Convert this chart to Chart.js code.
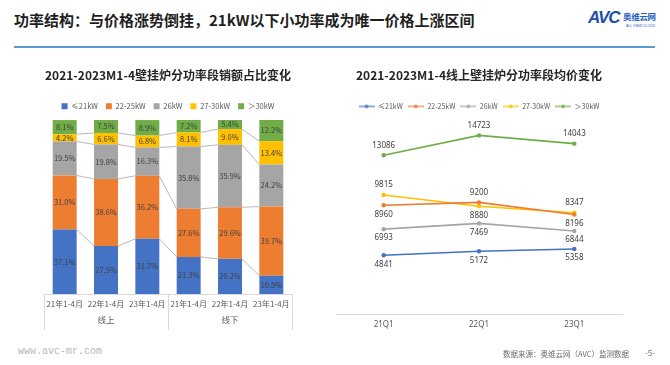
<!DOCTYPE html>
<html lang="zh">
<head>
<meta charset="utf-8">
<script src="https://cdn.jsdelivr.net/npm/chart.js@4.4.1/dist/chart.umd.min.js"></script>
<style>
  body { margin: 0; width: 670px; height: 365px; background: #fff; position: relative; overflow: hidden;
         font-family: "Noto Sans CJK SC", "Noto Sans", sans-serif; }
  .head { position: absolute; left: 14px; top: 9px; font-size: 15px; font-weight: bold; color: #1f1f1f; white-space: nowrap; }
  .rule { position: absolute; left: 14px; top: 46px; width: 641px; height: 2px; background: #5B9BD5; }
  .logo { position: absolute; left: 588px; top: 8px; width: 80px; height: 30px; white-space: nowrap; }
  .logo .avc { position: absolute; left: 0; top: 0; font: italic bold 17px "Liberation Sans", sans-serif; color: #1F4FA8; letter-spacing: -1px; }
  .logo .cn { position: absolute; left: 35px; top: 2px; font-size: 8.5px; font-weight: bold; color: #2B62C4; letter-spacing: -0.3px; }
  .logo .en { position: absolute; left: 38px; top: 16px; font: 3.5px "Liberation Sans", sans-serif; color: #2B62C4; }
  .box { position: absolute; }
  .foot-l { position: absolute; left: 18px; top: 346px; font: 10px "Liberation Mono", monospace; color: #b8b8b8; }
  .foot-r { position: absolute; left: 503px; top: 348px; font-size: 7.5px; color: #6b6b6b; white-space: nowrap; }
  .page { position: absolute; left: 645px; top: 347px; font-size: 8px; color: #6b6b6b; }
</style>
</head>
<body>
<div class="head">功率结构：与价格涨势倒挂，21kW以下小功率成为唯一价格上涨区间</div>
<div class="rule"></div>
<div class="logo"><span class="avc">AVC</span><span class="cn">奥维云网</span><span class="en">ALL VIEW CLOUD</span></div>

<div class="box" style="left:0;top:55px;width:335px;height:290px;"><canvas id="chart-1"></canvas></div>
<div class="box" style="left:320px;top:55px;width:340px;height:290px;"><canvas id="chart-2"></canvas></div>

<div class="foot-l">www.avc-mr.com</div>
<div class="foot-r">数据来源：奥维云网（AVC）监测数据</div>
<div class="page">-5-</div>

<script>
// data - stacked share (%)
const periods = ['21年1-4月', '22年1-4月', '23年1-4月', '21年1-4月', '22年1-4月', '23年1-4月'];
const channels = ['线上', '线下'];
const powerBands = ['≤21kW', '22-25kW', '26kW', '27-30kW', '＞30kW'];
const shareLe21 = [37.1, 27.5, 31.7, 21.3, 20.2, 10.5];
const share22to25 = [31.0, 38.6, 36.2, 27.6, 29.6, 39.7];
const share26 = [19.5, 19.8, 16.3, 35.8, 35.9, 24.2];
const share27to30 = [4.2, 6.6, 6.8, 8.1, 9.0, 13.4];
const shareGt30 = [8.1, 7.5, 8.9, 7.2, 5.4, 12.2];

// data - online avg price
const quarters = ['21Q1', '22Q1', '23Q1'];
const priceLe21 = [4841, 5172, 5358];
const price22to25 = [8960, 9200, 8196];
const price26 = [6993, 7469, 6844];
const price27to30 = [9815, 8880, 8347];
const priceGt30 = [13086, 14723, 14043];

const colors = ['#4472C4', '#ED7D31', '#A5A5A5', '#FFC000', '#70AD47'];
// label above / below the point, per series
const labelSide = [
  ['below', 'below', 'below'],
  ['below', 'above', 'below'],
  ['below', 'below', 'below'],
  ['above', 'below', 'above'],
  ['above', 'above', 'above']
];

const txt = '#595959';
const fontCn = '"Noto Sans CJK SC", "Noto Sans", sans-serif';

// grey lines between the stacked bars
const seriesLines = {
  id: 'seriesLines',
  beforeDatasetsDraw(chart) {
    const ctx = chart.ctx;
    ctx.save();
    ctx.strokeStyle = '#A6A6A6';
    ctx.lineWidth = 0.8;
    for (let i = 0; i < chart.data.datasets.length - 1; i++) {
      const bars = chart.getDatasetMeta(i).data;
      for (let j = 0; j < bars.length - 1; j++) {
        const a = bars[j], b = bars[j + 1];
        ctx.beginPath();
        ctx.moveTo(a.x + a.width / 2, a.y);
        ctx.lineTo(b.x - b.width / 2, b.y);
        ctx.stroke();
      }
    }
    ctx.restore();
  }
};

// percent text in the middle of each segment
const barLabels = {
  id: 'barLabels',
  afterDatasetsDraw(chart) {
    const ctx = chart.ctx;
    ctx.save();
    ctx.font = '7.5px ' + fontCn;
    ctx.fillStyle = '#404040';
    ctx.textAlign = 'center';
    ctx.textBaseline = 'middle';
    chart.data.datasets.forEach((ds, i) => {
      chart.getDatasetMeta(i).data.forEach((bar, j) => {
        const c = bar.getCenterPoint();
        ctx.fillText(ds.data[j].toFixed(1) + '%', c.x, c.y);
      });
    });
    ctx.restore();
  }
};

// vertical separators of 线上 / 线下
const groupLines = {
  id: 'groupLines',
  afterDraw(chart) {
    const ctx = chart.ctx;
    const x2 = chart.scales.x2;
    const area = chart.chartArea;
    ctx.save();
    ctx.strokeStyle = '#D9D9D9';
    ctx.lineWidth = 1;
    [area.left, (area.left + area.right) / 2, area.right].forEach(x => {
      ctx.beginPath();
      ctx.moveTo(Math.round(x) + 0.5, area.bottom);
      ctx.lineTo(Math.round(x) + 0.5, x2.bottom);
      ctx.stroke();
    });
    ctx.restore();
  }
};

const lineLabels = {
  id: 'lineLabels',
  afterDatasetsDraw(chart) {
    const ctx = chart.ctx;
    ctx.save();
    ctx.font = '8px "Noto Sans", sans-serif';
    ctx.fillStyle = '#404040';
    ctx.textAlign = 'center';
    ctx.textBaseline = 'middle';
    chart.data.datasets.forEach((ds, i) => {
      chart.getDatasetMeta(i).data.forEach((pt, j) => {
        const dy = labelSide[i][j] == 'above' ? -10 : 9;
        ctx.fillText(ds.data[j], pt.x, pt.y + dy);
      });
    });
    ctx.restore();
  }
};

function lineMarker(color) {
  const c = document.createElement('canvas');
  c.width = 16;
  c.height = 6;
  const g = c.getContext('2d');
  g.strokeStyle = color;
  g.lineWidth = 1.2;
  g.beginPath();
  g.moveTo(0, 3);
  g.lineTo(16, 3);
  g.stroke();
  g.fillStyle = color;
  g.beginPath();
  g.arc(8, 3, 1.8, 0, Math.PI * 2);
  g.fill();
  return c;
}

const shares = [shareLe21, share22to25, share26, share27to30, shareGt30];
const prices = [priceLe21, price22to25, price26, price27to30, priceGt30];

const ctx1 = document.getElementById('chart-1').getContext('2d');
const chart1 = new Chart(ctx1, {
  type: 'bar',
  data: {
    labels: periods,
    datasets: shares.map((s, i) => ({
      label: powerBands[i],
      data: s,
      backgroundColor: colors[i],
      categoryPercentage: 1,
      barPercentage: 0.58
    }))
  },
  options: {
    responsive: true,
    maintainAspectRatio: false,
    animation: false,
    layout: { padding: { left: 44, right: 43, top: 0, bottom: 15 } },
    plugins: {
      title: {
        display: true,
        text: '2021-2023M1-4壁挂炉分功率段销额占比变化',
        color: '#262626',
        font: { size: 12, weight: 'bold', family: fontCn },
        padding: { top: 13, bottom: 12 }
      },
      legend: {
        labels: {
          boxWidth: 6, boxHeight: 6, padding: 8, color: txt,
          font: { size: 7.5, family: fontCn }
        }
      },
      tooltip: { enabled: false }
    },
    scales: {
      x: {
        stacked: true,
        grid: { display: false, drawTicks: false },
        border: { display: true, color: '#D9D9D9' },
        ticks: { color: txt, font: { size: 8, family: fontCn }, padding: 5, maxRotation: 0, autoSkip: false },
        afterFit(s) { s.height = 18; }
      },
      x2: {
        type: 'category',
        labels: channels,
        position: 'bottom',
        offset: true,
        grid: { display: false, drawTicks: false },
        border: { display: false },
        ticks: { color: txt, font: { size: 8.5, family: fontCn }, padding: 3 },
        afterFit(s) { s.height = 18; }
      },
      y: { stacked: true, display: false, min: 0, max: 100 }
    }
  },
  plugins: [seriesLines, barLabels, groupLines]
});

const markers = colors.map(lineMarker);
const ctx2 = document.getElementById('chart-2').getContext('2d');
const chart2 = new Chart(ctx2, {
  type: 'line',
  data: {
    labels: quarters,
    datasets: prices.map((p, i) => ({
      label: powerBands[i],
      data: p,
      borderColor: colors[i],
      backgroundColor: colors[i],
      borderWidth: 1.6,
      pointRadius: 2.2,
      pointBorderWidth: 0,
      tension: 0
    }))
  },
  options: {
    responsive: true,
    maintainAspectRatio: false,
    animation: false,
    layout: { padding: { left: 16, right: 38, top: 0, bottom: 11 } },
    plugins: {
      title: {
        display: true,
        text: '2021-2023M1-4线上壁挂炉分功率段均价变化',
        color: '#262626',
        font: { size: 12, weight: 'bold', family: fontCn },
        padding: { top: 13, bottom: 15.5 }
      },
      legend: {
        labels: {
          usePointStyle: true, pointStyleWidth: 16, padding: 5, color: txt,
          font: { size: 7, family: fontCn },
          generateLabels(chart) {
            const items = Chart.defaults.plugins.legend.labels.generateLabels(chart);
            items.forEach((it, i) => { it.pointStyle = markers[i]; });
            return items;
          }
        }
      },
      tooltip: { enabled: false }
    },
    scales: {
      x: {
        offset: true,
        grid: { display: false, drawTicks: false },
        border: { display: true, color: '#D9D9D9' },
        ticks: { color: txt, font: { size: 8, family: '"Noto Sans", sans-serif' }, padding: 6 },
        afterFit(s) { s.height = 20; }
      },
      y: { display: false, min: 0, max: 16000 }
    }
  },
  plugins: [lineLabels]
});
</script>
</body>
</html>
